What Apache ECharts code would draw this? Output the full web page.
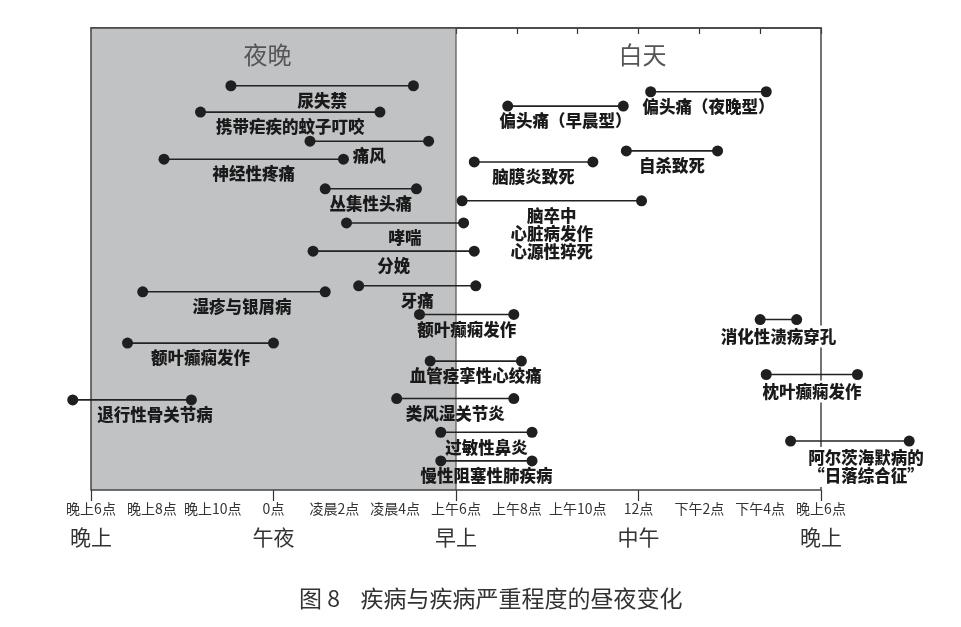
<!DOCTYPE html>
<html>
<head>
<meta charset="utf-8">
<script src="https://cdn.jsdelivr.net/npm/echarts@6/dist/echarts.min.js"></script>
<style>
html,body{margin:0;padding:0;background:#fff;}
#chart{width:961px;height:627px;}
</style>
</head>
<body>
<div id="chart"></div>
<script>
// ---- data (hours counted from 18 = 晚上6点 of previous day to 42 = 晚上6点) ----
const diseases = ['尿失禁','携带疟疾的蚊子叮咬','痛风','神经性疼痛','丛集性头痛','哮喘','分娩',
  '偏头痛（夜晚型）','偏头痛（早晨型）','自杀致死','脑膜炎致死','脑卒中\n心脏病发作\n心源性猝死',
  '牙痛','湿疹与银屑病','额叶癫痫发作','消化性溃疡穿孔','血管痉挛性心绞痛','枕叶癫痫发作',
  '类风湿关节炎','过敏性鼻炎','阿尔茨海默病的\n“日落综合征”','慢性阻塞性肺疾病','额叶癫痫发作','退行性骨关节病'];
const startHours = [22.6, 21.6, 25.2, 20.4, 25.7, 26.4, 25.3, 36.4, 31.7, 35.6, 30.6, 30.2,
  26.8, 19.7, 28.8, 40.0, 29.15, 40.2, 28.05, 29.5, 41.0, 29.5, 19.2, 17.4];
const endHours = [28.6, 27.5, 29.1, 26.3, 28.7, 30.25, 30.6, 40.2, 35.5, 38.6, 34.5, 36.1,
  30.65, 25.7, 31.9, 41.2, 32.15, 43.2, 31.9, 32.5, 44.9, 32.5, 24.0, 21.3];
const rows = [12.5, 18.2, 24.5, 28.4, 34.8, 42.2, 48.3, 13.8, 16.9, 26.6, 29.0, 37.4,
  55.8, 57.1, 62.0, 63.1, 72.1, 75.0, 80.2, 87.5, 89.4, 93.7, 68.2, 80.5];
const nightSpan = [18, 30];
const dayLabels = ['夜晚', '白天'];
const tickLabels = ['晚上6点','晚上8点','晚上10点','0点','凌晨2点','凌晨4点','上午6点','上午8点','上午10点','12点','下午2点','下午4点','晚上6点'];
const periodLabels = ['晚上','午夜','早上','中午','晚上'];
const caption = '图 8    疾病与疾病严重程度的昼夜变化';

// ---- presentation ----
const FONT = '"Noto Sans CJK SC", "Noto Sans", sans-serif';
const labelNudge = {13: 8, 20: 16, 23: 23};
const whiteBacked = {15: true, 17: true, 20: true};

const chart = echarts.init(document.getElementById('chart'), null, {renderer: 'canvas'});

const items = diseases.map((n, i) => [startHours[i], endHours[i], rows[i]]);

const option = {
  animation: false,
  backgroundColor: '#fff',
  grid: {left: 91, right: 140, top: 28, bottom: 137, show: true,
    borderColor: '#454545', borderWidth: 1.5, backgroundColor: 'transparent', z: 3},
  xAxis: [{
    type: 'value', min: 18, max: 42, interval: 2, position: 'bottom',
    axisLine: {show: true, lineStyle: {color: '#333', width: 1.5}},
    axisTick: {show: true, length: 6, lineStyle: {color: '#333', width: 1.2}},
    axisLabel: {margin: 12, fontSize: 14, color: '#333', fontFamily: FONT,
      formatter: v => tickLabels[Math.round((v - 18) / 2)]},
    splitLine: {show: false}
  }, {
    type: 'value', min: 18, max: 42, interval: 6, position: 'bottom',
    axisLine: {show: false},
    axisTick: {show: true, length: 11, lineStyle: {color: '#333', width: 1.2}},
    axisLabel: {margin: 37, fontSize: 21, color: '#333', fontFamily: FONT,
      formatter: v => periodLabels[Math.round((v - 18) / 6)]},
    splitLine: {show: false}
  }],
  yAxis: {type: 'value', min: 0, max: 100, inverse: true, show: false},
  graphic: [{
    type: 'text', left: 299, top: 587,
    style: {text: caption, font: '23px ' + FONT, fill: '#333'}
  }],
  series: [{
    type: 'custom', z: 1, silent: true, xAxisIndex: 0,
    data: [nightSpan],
    renderItem: (params, api) => {
      const a = api.coord([api.value(0), 0]);
      const b = api.coord([api.value(1), 100]);
      const cNight = api.coord([(18 + 30) / 2, 0]);
      const cDay = api.coord([(30 + 42) / 2, 0]);
      return {type: 'group', children: [
        {type: 'rect', shape: {x: a[0], y: a[1], width: b[0] - a[0], height: b[1] - a[1]},
          style: {fill: '#c1c2c4'}},
        {type: 'line', shape: {x1: b[0], y1: a[1], x2: b[0], y2: b[1]},
          style: {stroke: '#555', lineWidth: 1.2}},
        {type: 'text', style: {text: dayLabels[0], x: cNight[0] - 6, y: cNight[1] + 27,
          align: 'center', verticalAlign: 'middle', font: '24px ' + FONT, fill: '#555'}},
        {type: 'text', style: {text: dayLabels[1], x: cDay[0] + 4, y: cDay[1] + 27,
          align: 'center', verticalAlign: 'middle', font: '24px ' + FONT, fill: '#555'}}
      ]};
    }
  }, {
    type: 'custom', z: 10, silent: true, xAxisIndex: 0, clip: false,
    data: items,
    renderItem: (params, api) => {
      const i = params.dataIndex;
      const p1 = api.coord([api.value(0), api.value(2)]);
      const p2 = api.coord([api.value(1), api.value(2)]);
      const cx = (p1[0] + p2[0]) / 2 + (labelNudge[i] || 0);
      const textStyle = {
        text: diseases[i], x: cx, y: p1[1] + 6, align: 'center', verticalAlign: 'top',
        font: '900 16.5px ' + FONT, fill: '#1a1a1a', lineHeight: 18
      };
      if (whiteBacked[i]) { textStyle.backgroundColor = '#fff'; textStyle.padding = [2, 3]; }
      return {type: 'group', children: [
        {type: 'text', z2: 1, style: textStyle},
        {type: 'line', z2: 2, shape: {x1: p1[0], y1: p1[1], x2: p2[0], y2: p2[1]},
          style: {stroke: '#222', lineWidth: 1.6}},
        {type: 'circle', z2: 3, shape: {cx: p1[0], cy: p1[1], r: 5.5}, style: {fill: '#1f1f1f'}},
        {type: 'circle', z2: 3, shape: {cx: p2[0], cy: p2[1], r: 5.5}, style: {fill: '#1f1f1f'}}
      ]};
    }
  }]
};
chart.setOption(option);
</script>
</body>
</html>
